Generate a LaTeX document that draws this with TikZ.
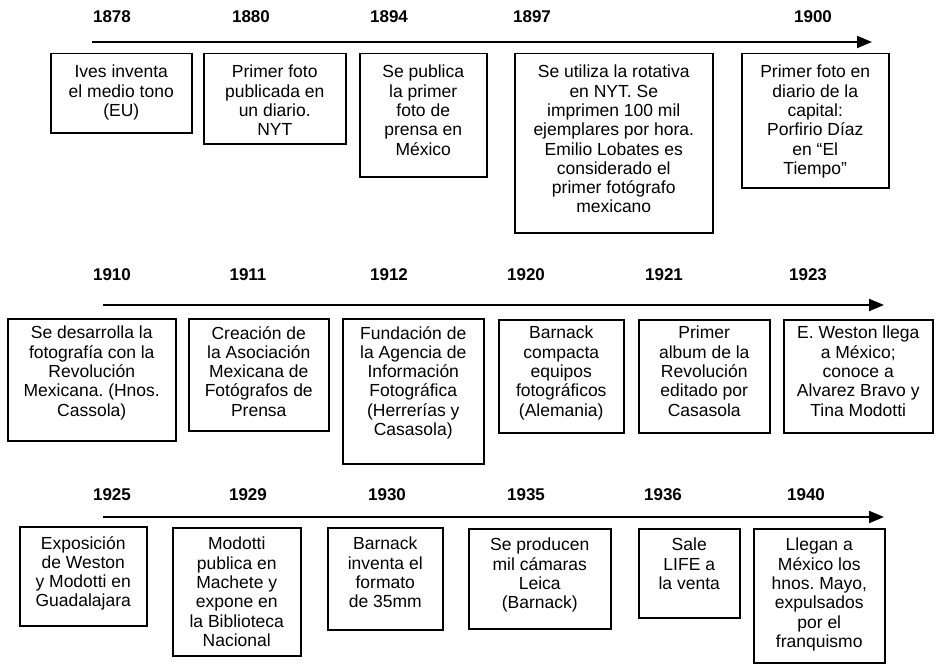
\documentclass[tikz,border=0pt]{standalone}
\usepackage{fontspec}
\setmainfont{Liberation Sans}
\usetikzlibrary{arrows.meta}
\frenchspacing
\tikzset{
  evframe/.style={draw=black, line width=1.5pt, inner sep=0pt, anchor=north west},
  evtext/.style={anchor=north, align=center, inner sep=0pt, font=\fontsize{17.5}{19.3}\selectfont},
  yearlabel/.style={font=\fontsize{17}{20}\selectfont\bfseries, inner sep=0pt},
  timeline/.style={line width=2pt, -{Triangle[length=15pt,width=12pt]}},
}
\newcommand\evbox[7]{%
  \node[evframe, minimum width={#4pt-#2pt}, minimum height={#5pt-#3pt}] (#1) at (#2,#3) {};
  \node[evtext] (#1t) at ([yshift=-#6pt]#1.north) {#7};
}
\begin{document}
\begin{tikzpicture}[x=1pt,y=-1pt]
\useasboundingbox (0,0) rectangle (936,669);
% ---------- row 1 ----------
\node[yearlabel] (y1878) at (112,17) {1878};
\node[yearlabel] (y1880) at (251,17) {1880};
\node[yearlabel] (y1894) at (389,17) {1894};
\node[yearlabel] (y1897) at (532,17) {1897};
\node[yearlabel] (y1900) at (813,17) {1900};
\coordinate (t1s) at (92,42);
\coordinate (t1e) at (872,42);
\draw[timeline] (t1s) -- (t1e);
\evbox{a1}{50}{53}{191}{132}{12}{Ives inventa\\el medio tono\\(EU)}
\evbox{a2}{203}{53}{345}{143}{12}{Primer foto\\publicada en\\un diario.\\NYT}
\evbox{a3}{359}{53}{486}{176}{12}{Se publica\\la primer\\foto de\\prensa en\\México}
\evbox{a4}{514}{53}{712}{232}{12}{Se utiliza la rotativa\\en NYT. Se\\imprimen 100 mil\\ejemplares por hora.\\Emilio Lobates es\\considerado el\\primer fotógrafo\\mexicano}
\evbox{a5}{741}{53}{888}{187}{12}{Primer foto en\\diario de la\\capital:\\Porfirio Díaz\\en “El\\Tiempo”}
% ---------- row 2 ----------
\node[yearlabel] (y1910) at (112,275) {1910};
\node[yearlabel] (y1911) at (248,275) {1911};
\node[yearlabel] (y1912) at (389,275) {1912};
\node[yearlabel] (y1920) at (526,275) {1920};
\node[yearlabel] (y1921) at (664,275) {1921};
\node[yearlabel] (y1923) at (808,275) {1923};
\coordinate (t2s) at (103,305);
\coordinate (t2e) at (884,305);
\draw[timeline] (t2s) -- (t2e);
\evbox{b1}{7}{318}{175}{440}{8}{Se desarrolla la\\fotografía con la\\Revolución\\Mexicana. (Hnos.\\Cassola)}
\evbox{b2}{188}{318}{328}{430}{8}{Creación de\\la Asociación\\Mexicana de\\Fotógrafos de\\Prensa}
\evbox{b3}{342}{318}{483}{463}{8}{Fundación de\\la Agencia de\\Información\\Fotográfica\\(Herrerías y\\Casasola)}
\evbox{b4}{498}{319}{623}{432}{7}{Barnack\\compacta\\equipos\\fotográficos\\(Alemania)}
\evbox{b5}{638}{319}{769}{432}{7}{Primer\\album de la\\Revolución\\editado por\\Casasola}
\evbox{b6}{783}{319}{932}{432}{7}{E. Weston llega\\a México;\\conoce a\\Alvarez Bravo y\\Tina Modotti}
% ---------- row 3 ----------
\node[yearlabel] (y1925) at (112,495) {1925};
\node[yearlabel] (y1929) at (248,495) {1929};
\node[yearlabel] (y1930) at (387,495) {1930};
\node[yearlabel] (y1935) at (526,495) {1935};
\node[yearlabel] (y1936) at (663,495) {1936};
\node[yearlabel] (y1940) at (806,495) {1940};
\coordinate (t3s) at (103,517);
\coordinate (t3e) at (884,517);
\draw[timeline] (t3s) -- (t3e);
\evbox{c1}{19}{526}{146}{625}{10}{Exposición\\de Weston\\y Modotti en\\Guadalajara}
\evbox{c2}{172}{527}{300}{655}{10}{Modotti\\publica en\\Machete y\\expone en\\la Biblioteca\\Nacional}
\evbox{c3}{327}{527}{442}{629}{10}{Barnack\\inventa el\\formato\\de 35mm}
\evbox{c4}{468}{528}{610}{628}{10}{Se producen\\mil cámaras\\Leica\\(Barnack)}
\evbox{c5}{638}{528}{739}{617}{10}{Sale\\LIFE a\\la venta}
\evbox{c6}{753}{528}{884}{662}{10}{Llegan a\\México los\\hnos. Mayo,\\expulsados\\por el\\franquismo}
\end{tikzpicture}
\end{document}
